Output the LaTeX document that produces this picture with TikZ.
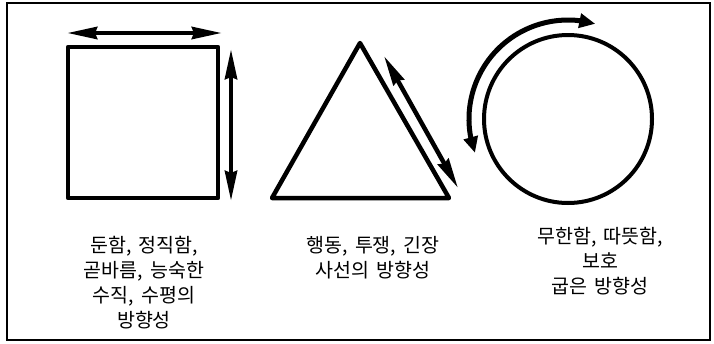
\documentclass[tikz,border=0pt]{standalone}
\usepackage{fontspec}
\newfontfamily\kor{Noto Sans CJK KR}[WordSpace=1.6]
\usetikzlibrary{arrows.meta,bending}

\begin{document}
\begin{tikzpicture}[x=1pt,y=-1pt,
  figline/.style={line width=4.5pt,line join=round},
  dblarrow/.style={line width=4.5pt,{Triangle[length=30pt,width=12pt,inset=2pt]}-{Triangle[length=30pt,width=12pt,inset=2pt]}},
  arcarrow/.style={line width=5pt,{Triangle[length=16pt,width=14pt,flex]}-{Triangle[length=16pt,width=14pt,flex]}},
  lbl/.style={font=\kor\fontsize{19.5}{25}\selectfont,align=center,anchor=north,inner sep=0pt}]
\useasboundingbox (0,0) rectangle (714,343);
\draw[line width=1.2pt] (7,3) rectangle (710,340);

% square
\coordinate (sqa) at (68,47);
\coordinate (sqb) at (218,198);
\draw[figline] (sqa) rectangle (sqb);
\coordinate (hl) at (67,33);
\coordinate (hr) at (222,33);
\draw[dblarrow] (hl) -- (hr);
\coordinate (vt) at (231,49);
\coordinate (vb) at (231,201);
\draw[dblarrow] (vt) -- (vb);

% triangle
\coordinate (top) at (360,43);
\coordinate (bl) at (272,198);
\coordinate (br) at (449,198);
\draw[figline] (top) -- (br) -- (bl) -- cycle;
\coordinate (dt) at (384,56);
\coordinate (db) at (458,188);
\draw[dblarrow] (dt) -- (db);

% circle
\coordinate (cc) at (568,119);
\draw[line width=4pt] (cc) circle[radius=84];
\coordinate (as) at ([shift={(160:99)}]cc);
\draw[arcarrow] (as) arc[start angle=160,end angle=286,radius=99];

% labels
\node[lbl] (sqtext) at (144,236) {둔함, 정직함,\\곧바름, 능숙한\\수직, 수평의\\방향성};
\node[lbl] (tritext) at (373,236) {행동, 투쟁, 긴장\\사선의 방향성};
\node[lbl] (circtext) at (600,227) {무한함, 따뜻함,\\보호\\굽은 방향성};
\end{tikzpicture}
\end{document}
